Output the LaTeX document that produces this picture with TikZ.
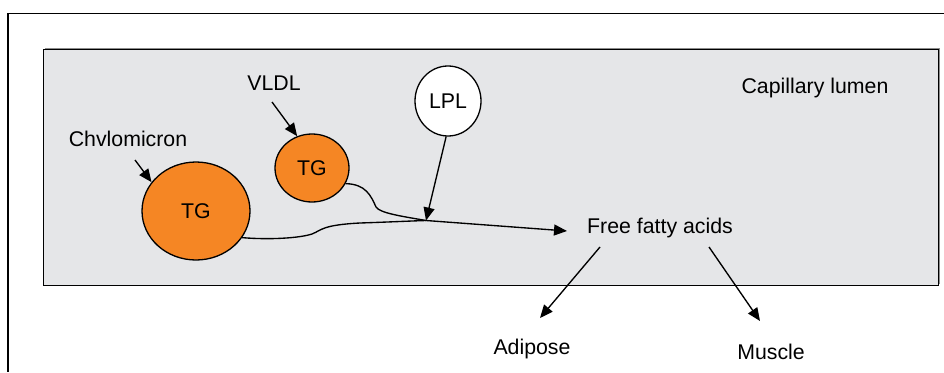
\documentclass[tikz,border=0pt]{standalone}
\usepackage{fontspec}
\setmainfont{Liberation Sans}
\usetikzlibrary{shapes.geometric,arrows.meta,calc}
\definecolor{lumen}{RGB}{229,230,232}
\definecolor{tgorange}{RGB}{245,134,36}
\tikzset{
  lbl/.style={inner sep=0pt, font=\fontsize{21.3}{25}\selectfont},
  tgblob/.style={ellipse, draw=black, line width=1.3pt, fill=tgorange, inner sep=0pt, font=\fontsize{21.3}{25}\selectfont},
  conn/.style={line width=1.35pt, -{Triangle[length=13pt,width=11pt]}},
  flow/.style={line width=1.35pt}
}
\begin{document}
\begin{tikzpicture}[x=1pt,y=-1pt]
\useasboundingbox (0,0) rectangle (944,372);
% outer frame
\draw[line width=1.5pt] (944,13.5) -- (8,13.5) -- (8,372);
% capillary lumen
\fill[black!45] (44.5,47.5) rectangle (939.5,284);
\draw[fill=lumen, line width=1pt] (43,49) rectangle (938,285);
\node[lbl] (cap) at (815,88) {Capillary lumen};
% TG blobs
\node[tgblob, minimum width=108pt, minimum height=98pt] (chylo) at (196,211) {TG};
\node[tgblob, minimum width=74pt, minimum height=68pt] (vldl) at (312,168) {TG};
\node[ellipse, draw=black, line width=1.3pt, fill=white, inner sep=0pt, minimum width=66pt, minimum height=70pt, font=\fontsize{21.3}{25}\selectfont] (lpl) at (448,101) {LPL};
% labels
\node[lbl] (chylab) at (128,139) {Chvlomicron};
\node[lbl] (vldllab) at (274,83) {VLDL};
\node[lbl, inner xsep=20pt] (ffa) at (660,228) {Free fatty acids};
\node[lbl] (adip) at (532,349) {Adipose};
\node[lbl] (musc) at (771,352) {Muscle};
% merge point
\coordinate (m) at (426,220.5);
% flows
\draw[flow] (chylo.-30) .. controls (270,240) and (300,238) .. (312,234)
  .. controls (322,230) and (322,225) .. (360,223)
  .. controls (390,222) and (410,221) .. (m);
\draw[flow] (vldl.-25) .. controls (366,184) and (371,196) .. (376,207)
  .. controls (380,213) and (400,216) .. (m);
\draw[conn] (m) -- ($(ffa.west)+(0,3)$);
% arrows
\draw[conn] ($(chylab.center)+(7,21)$) -- (chylo.147);
\draw[conn] ($(vldllab.center)+(-2,19)$) -- (vldl.115);
\draw[conn] (lpl.-93) -- (m);
\draw[conn] ($(ffa.center)+(-60,19)$) -- ($(adip.center)+(8,-31)$);
\draw[conn] ($(ffa.center)+(49,19)$) -- ($(musc.center)+(-11,-31)$);
\end{tikzpicture}
\end{document}
